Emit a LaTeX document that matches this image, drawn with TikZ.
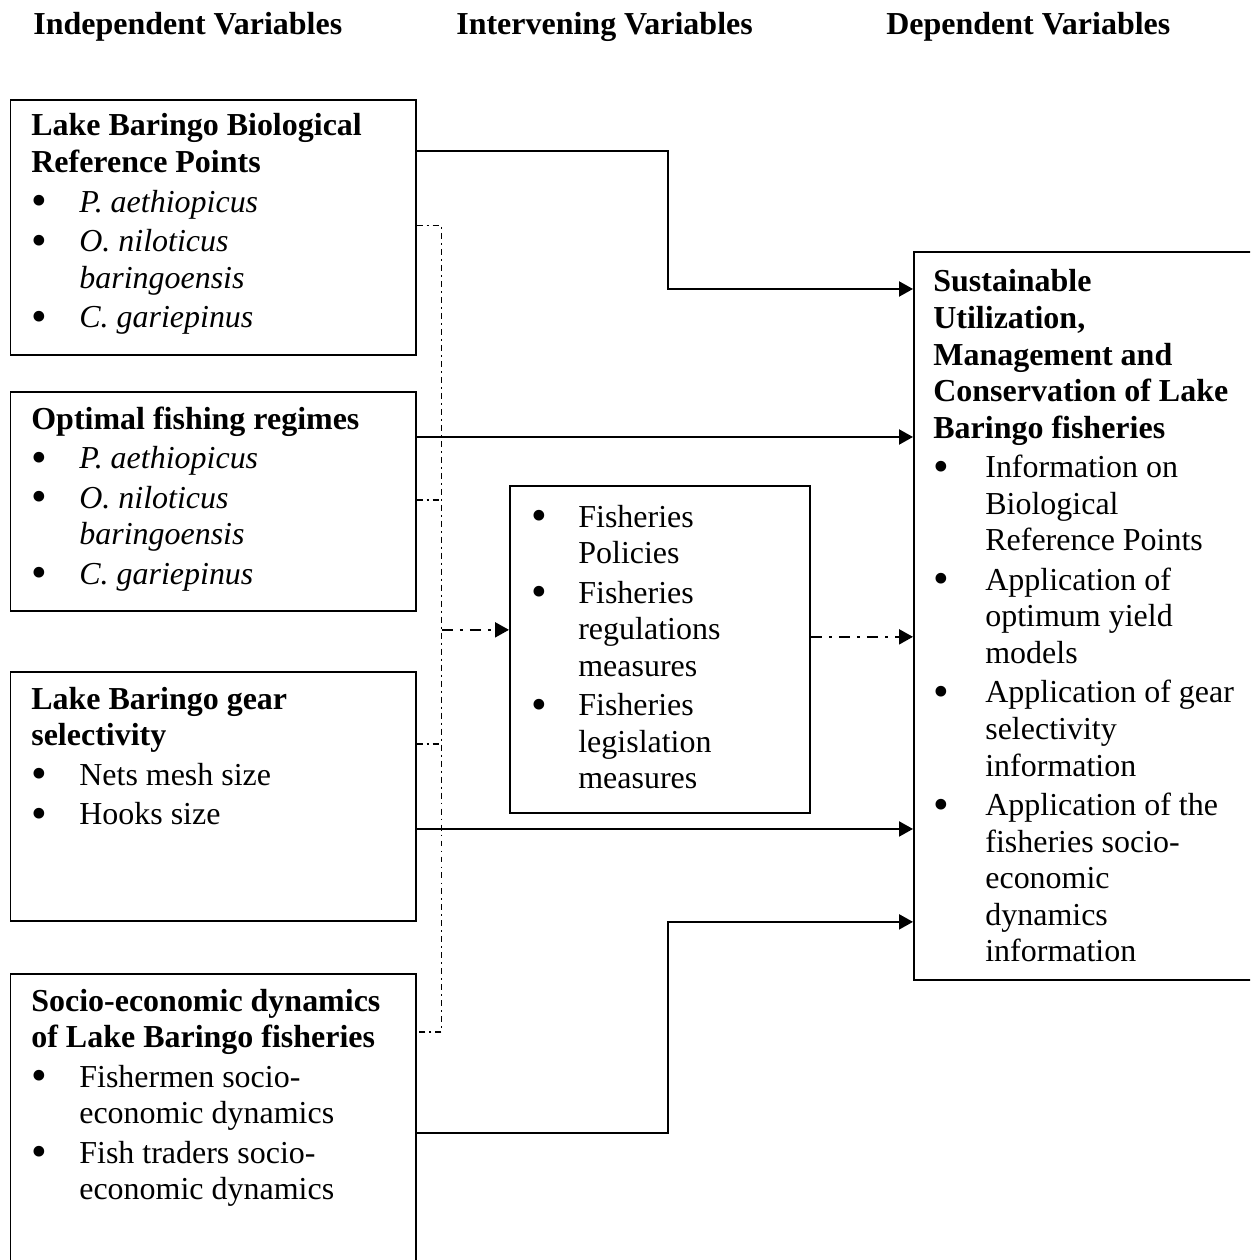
\documentclass[tikz,border=0pt]{standalone}
\usepackage{fontspec}
\usepackage{graphicx}
\setmainfont{Liberation Serif}
\usetikzlibrary{arrows.meta}

\newcommand{\blt}[1][0.96cm]{\makebox[#1][l]{\smash{\raisebox{-0.25ex}{\scalebox{1.4}{\textbullet}}}}}
\newcommand{\ind}[1][0.96cm]{\hspace*{#1}}
\newcommand{\gap}{1.7pt}

\tikzset{
  box/.style={draw, line width=1pt, anchor=north west, inner sep=0pt},
  txt/.style={anchor=base west, inner sep=0pt, font=\fontsize{18.2}{20.8}\selectfont},
  hdr/.style={txt, font=\fontsize{18.2}{20.8}\selectfont\bfseries},
  link/.style={line width=1.2pt, -{Triangle[length=0.28cm,width=0.3cm]}},
  ddlink/.style={line width=1.2pt, dash pattern=on 6.3pt off 4pt on 1.7pt off 4pt,
    -{Triangle[length=0.28cm,width=0.3cm]}},
  ddthin/.style={line width=0.6pt, dash pattern=on 3.4pt off 2.3pt on 1.1pt off 2.3pt}
}

\begin{document}
\begin{tikzpicture}[x=0.02cm,y=-0.02cm]
        \useasboundingbox (0,0) rectangle (1250,1260);
        \clip (0,0) rectangle (1250,1260);
        % column headings
        \node[hdr] (hind) at (33,35) {Independent Variables};
        \node[hdr] (hint) at (456,35) {Intervening Variables};
        \node[hdr] (hdep) at (886,35) {Dependent Variables};
        % boxes
        \node[box, minimum width=8.11cm, minimum height=5.1cm] (b1) at (9.5,99) {};
        \node[box, minimum width=8.11cm, minimum height=4.38cm] (b2) at (9.5,391) {};
        \node[box, minimum width=8.11cm, minimum height=4.98cm] (b3) at (9.5,671) {};
        \node[box, minimum width=8.11cm, minimum height=8cm] (b4) at (9.5,973) {};
        \node[box, minimum width=6cm, minimum height=6.54cm] (iv) at (509,485) {};
        \node[box, minimum width=8cm, minimum height=14.56cm] (dv) at (913,251) {};
        % box texts
        \node[txt] (t1) at (31,136) {\begin{tabular}[t]{@{}l@{}}
          \textbf{Lake Baringo Biological}\\
          \textbf{Reference Points}\\[\gap]
          \blt\textit{P. aethiopicus}\\[\gap]
          \blt\textit{O. niloticus}\\
          \ind\textit{baringoensis}\\[\gap]
          \blt\textit{C. gariepinus}
        \end{tabular}};
        \node[txt] (t2) at (31,429) {\begin{tabular}[t]{@{}l@{}}
          \textbf{Optimal fishing regimes}\\[\gap]
          \blt\textit{P. aethiopicus}\\[\gap]
          \blt\textit{O. niloticus}\\
          \ind\textit{baringoensis}\\[\gap]
          \blt\textit{C. gariepinus}
        \end{tabular}};
        \node[txt] (t3) at (31,709) {\begin{tabular}[t]{@{}l@{}}
          \textbf{Lake Baringo gear}\\
          \textbf{selectivity}\\[\gap]
          \blt Nets mesh size\\[\gap]
          \blt Hooks size
        \end{tabular}};
        \node[txt] (t4) at (31,1011) {\begin{tabular}[t]{@{}l@{}}
          \textbf{Socio-economic dynamics}\\
          \textbf{of Lake Baringo fisheries}\\[\gap]
          \blt Fishermen socio-\\
          \ind economic dynamics\\[\gap]
          \blt Fish traders socio-\\
          \ind economic dynamics
        \end{tabular}};
        \node[txt] (tm) at (531,527) {\begin{tabular}[t]{@{}l@{}}
          \blt[0.94cm]Fisheries\\
          \ind[0.94cm]Policies\\[\gap]
          \blt[0.94cm]Fisheries\\
          \ind[0.94cm]regulations\\
          \ind[0.94cm]measures\\[\gap]
          \blt[0.94cm]Fisheries\\
          \ind[0.94cm]legislation\\
          \ind[0.94cm]measures
        \end{tabular}};
        \node[txt] (tr) at (933,292) {\begin{tabular}[t]{@{}l@{}}
          \textbf{Sustainable}\\
          \textbf{Utilization,}\\
          \textbf{Management and}\\
          \textbf{Conservation of Lake}\\
          \textbf{Baringo fisheries}\\[\gap]
          \blt[1.04cm]Information on\\
          \ind[1.04cm]Biological\\
          \ind[1.04cm]Reference Points\\[\gap]
          \blt[1.04cm]Application of\\
          \ind[1.04cm]optimum yield\\
          \ind[1.04cm]models\\[\gap]
          \blt[1.04cm]Application of gear\\
          \ind[1.04cm]selectivity\\
          \ind[1.04cm]information\\[\gap]
          \blt[1.04cm]Application of the\\
          \ind[1.04cm]fisheries socio-\\
          \ind[1.04cm]economic\\
          \ind[1.04cm]dynamics\\
          \ind[1.04cm]information
        \end{tabular}};
        % solid links to the dependent variables
        \draw[link] ([yshift=-1.04cm]b1.north east) -- ++(5.02cm,0)
          |- ([yshift=-0.76cm]dv.north west);
        \draw[link] ([yshift=-0.92cm]b2.north east) coordinate (s2) -- (s2 -| dv.west);
        \draw[link] ([yshift=-3.16cm]b3.north east) coordinate (s3) -- (s3 -| dv.west);
        \draw[link] ([yshift=-3.2cm]b4.north east) -- ++(5.02cm,0)
          |- ([yshift=-13.42cm]dv.north west);
        % dash-dot collector through the intervening variables
        \coordinate (j1) at ([xshift=0.5cm,yshift=-2.54cm]b1.north east);
        \coordinate (j4) at ([xshift=0.5cm,yshift=-1.18cm]b4.north east);
        \draw[ddthin] ([yshift=-2.54cm]b1.north east) -- (j1) -- (j4)
          -- ([yshift=-1.18cm]b4.north east);
        \draw[ddthin] ([yshift=-2.18cm]b2.north east) coordinate (d2) -- (d2 -| j1);
        \draw[ddthin] ([yshift=-1.46cm]b3.north east) coordinate (d3) -- (d3 -| j1);
        \coordinate (m1) at ([yshift=0.39cm]iv.west);
        \coordinate (m2) at ([yshift=0.25cm]iv.east);
        \draw[ddlink] (m1 -| j1) -- (m1);
        \draw[ddlink] (m2) -- (m2 -| dv.west);
      \end{tikzpicture}
\end{document}
